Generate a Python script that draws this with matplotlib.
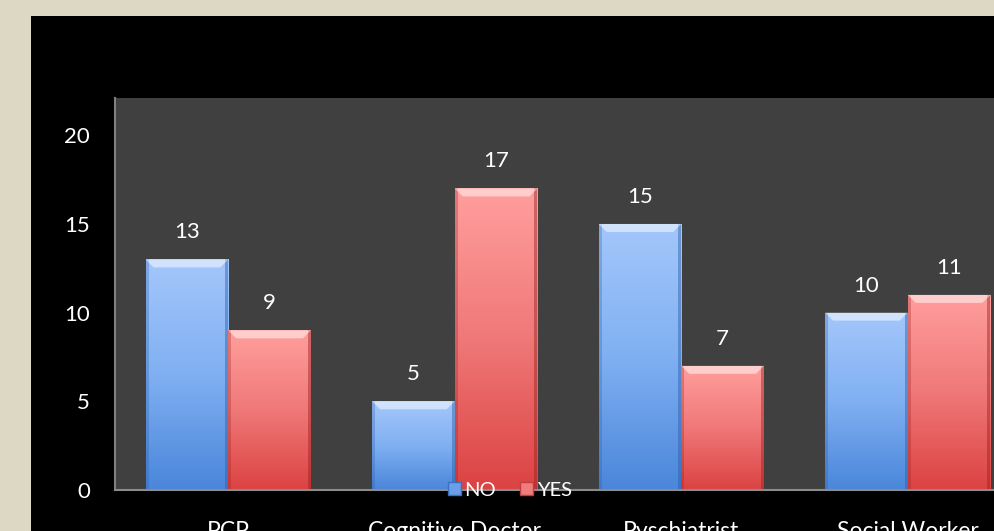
import matplotlib
matplotlib.use("Agg")
import matplotlib.pyplot as plt
import numpy as np
from matplotlib.patches import Rectangle, Polygon, Patch
from matplotlib.colors import LinearSegmentedColormap

categories = ["PCP", "Cognitive Doctor", "Pyschiatrist", "Social Worker"]
no_values = [13, 5, 15, 10]
yes_values = [9, 17, 7, 11]
series_names = ["NO", "YES"]
yticks = [0, 5, 10, 15, 20]

plt.rcParams['font.family'] = ['Lato', 'DejaVu Sans']

W, H = 995, 531
fig = plt.figure(figsize=(W / 100, H / 100), dpi=100)
fig.patch.set_facecolor('#DDD8C4')
fig.patches.append(Rectangle((31 / W, 0), 1.2, (H - 16) / H, transform=fig.transFigure,
                             facecolor='black', edgecolor='none', zorder=-10))

ax_left, ax_right = 115, 1021
ax_bottom, ax_top = 490, 98
ax = fig.add_axes([ax_left / W, (H - ax_bottom) / H, (ax_right - ax_left) / W, (ax_bottom - ax_top) / H])
ax.set_facecolor('#404040')

ymax = 22.1
ax.set_xlim(-0.5, len(categories) - 0.5)
ax.set_ylim(0, ymax)

x = np.arange(len(categories))
bw = 0.365

px_x = (len(categories)) / (ax_right - ax_left)
px_y = ymax / (ax_bottom - ax_top)

blue_cmap = LinearSegmentedColormap.from_list('b', ['#4A86DA', '#80B0F2', '#A4C7FB'])
red_cmap = LinearSegmentedColormap.from_list('r', ['#DC4242', '#F07878', '#FF9F9D'])

def draw_bars(xs, vals, cmap, edge):
    bars = ax.bar(xs, vals, bw, align='edge', color='none', edgecolor='none', zorder=2)
    for b in bars:
        x0, w, h = b.get_x(), b.get_width(), b.get_height()
        grad = np.linspace(0, 1, 256).reshape(-1, 1)
        im = ax.imshow(grad, cmap=cmap, aspect='auto', origin='lower',
                       extent=[x0, x0 + w, 0, h], zorder=2, interpolation='bicubic')
        im.set_clip_path(b)
        ax.add_patch(Rectangle((x0, 0), 3 * px_x, h, facecolor=edge, alpha=0.3, edgecolor='none', zorder=3))
        ax.add_patch(Rectangle((x0 + w - 3 * px_x, 0), 3 * px_x, h, facecolor=edge, alpha=0.45, edgecolor='none', zorder=3))
        d = 8 * px_x
        hh = 8 * px_y
        ax.add_patch(Polygon([(x0, h), (x0 + w, h), (x0 + w - d, h - hh), (x0 + d, h - hh)],
                             closed=True, facecolor='white', alpha=0.5, edgecolor='none', zorder=3))
        ax.annotate(f"{int(h)}", (x0 + w / 2, h), xytext=(0, 19.5), textcoords='offset points',
                    ha='center', va='center', color='white', fontsize=16, zorder=5)
    return bars

draw_bars(x - bw, no_values, blue_cmap, '#2A5EA8')
draw_bars(x, yes_values, red_cmap, '#9A2020')

for s in ['top', 'right']:
    ax.spines[s].set_visible(False)
ax.spines['left'].set_color('#7F7F7F')
ax.spines['bottom'].set_color('#8C8C8C')
ax.spines['left'].set_linewidth(1.5)
ax.spines['bottom'].set_linewidth(1.5)
ax.spines['left'].set_zorder(6)
ax.spines['bottom'].set_zorder(6)

ax.set_yticks(yticks)
ax.set_yticklabels([str(t) for t in yticks])
ax.set_xticks(x)
ax.set_xticklabels(categories)
ax.tick_params(axis='y', length=0, pad=18, colors='white', labelsize=16)
ax.tick_params(axis='x', length=0, pad=22, colors='white', labelsize=16.5)

handles = [Patch(facecolor='#6A9EE8', edgecolor='#3A70C0'), Patch(facecolor='#F07C7C', edgecolor='#C04040')]
leg = ax.legend(handles, series_names, loc='center', bbox_to_anchor=((510 - ax_left) / (ax_right - ax_left), 0.0),
                ncol=2, frameon=False, fontsize=14.5, labelcolor='white', handlelength=0.6, handleheight=0.6,
                handletextpad=0.2, columnspacing=1.2, borderpad=0)
leg.set_zorder(7)

fig.savefig('out.png', dpi=100, facecolor=fig.get_facecolor())
